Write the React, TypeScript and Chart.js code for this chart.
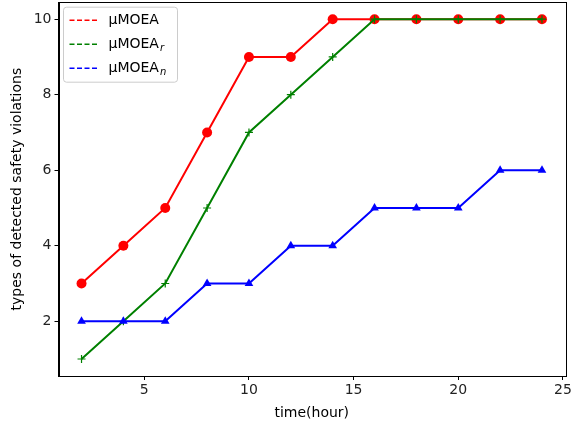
import React, { useEffect, useRef } from "react";
import { Chart, registerables } from "chart.js";

Chart.register(...registerables);

const hours = [2, 4, 6, 8, 10, 12, 14, 16, 18, 20, 22, 24];
const moea = [3, 4, 5, 7, 9, 9, 10, 10, 10, 10, 10, 10];
const moeaR = [1, 2, 3, 5, 7, 8, 9, 10, 10, 10, 10, 10];
const moeaN = [2, 2, 2, 3, 3, 4, 4, 5, 5, 5, 6, 6];
const xTicks = [5, 10, 15, 20, 25];
const yTicks = [2, 4, 6, 8, 10];
const legendItems = [
  { base: "μMOEA", sub: "", color: "#ff0000" },
  { base: "μMOEA", sub: "r", color: "#008000" },
  { base: "μMOEA", sub: "n", color: "#0000ff" },
];

const FONT = "DejaVu Sans";
const SHIFT = 3;

const frameAndLegend = {
  id: "frameAndLegend",
  afterDraw(chart: any) {
    const { ctx, chartArea } = chart;
    const { left, right, top, bottom } = chartArea;
    ctx.save();
    ctx.strokeStyle = "#000";
    ctx.lineWidth = 1;
    ctx.strokeRect(Math.round(left) + 0.5, Math.round(top) + 0.5, Math.round(right - left), Math.round(bottom - top));

    // legend
    const bx = left + 5, by = top + 5, bw = 114, bh = 75;
    const r = 3;
    ctx.beginPath();
    ctx.moveTo(bx + r, by);
    ctx.lineTo(bx + bw - r, by);
    ctx.quadraticCurveTo(bx + bw, by, bx + bw, by + r);
    ctx.lineTo(bx + bw, by + bh - r);
    ctx.quadraticCurveTo(bx + bw, by + bh, bx + bw - r, by + bh);
    ctx.lineTo(bx + r, by + bh);
    ctx.quadraticCurveTo(bx, by + bh, bx, by + bh - r);
    ctx.lineTo(bx, by + r);
    ctx.quadraticCurveTo(bx, by, bx + r, by);
    ctx.closePath();
    ctx.fillStyle = "rgba(255,255,255,0.8)";
    ctx.fill();
    ctx.strokeStyle = "#cccccc";
    ctx.stroke();

    legendItems.forEach((it, i) => {
      const y = by + 13 + i * 24;
      ctx.strokeStyle = it.color;
      ctx.lineWidth = 1.5;
      ctx.setLineDash([5, 2.5]);
      ctx.beginPath();
      ctx.moveTo(bx + 6, y);
      ctx.lineTo(bx + 34, y);
      ctx.stroke();
      ctx.setLineDash([]);
      ctx.fillStyle = "#000";
      ctx.textBaseline = "middle";
      ctx.font = `14px ${FONT}`;
      ctx.fillText(it.base, bx + 45, y);
      if (it.sub) {
        const w = ctx.measureText(it.base).width;
        ctx.font = `italic 10px ${FONT}`;
        ctx.fillText(it.sub, bx + 45 + w + 1, y + 4);
      }
    });
    ctx.restore();
  },
};

export default function App() {
  const ref = useRef<HTMLCanvasElement>(null);
  useEffect(() => {
    const mk = (data: number[]) => hours.map((x, i) => ({ x, y: data[i] }));
    const chart = new Chart(ref.current!, {
      type: "line",
      data: {
        datasets: [
          {
            label: "μMOEA",
            data: mk(moea),
            borderColor: "#ff0000",
            backgroundColor: "#ff0000",
            borderWidth: 2,
            pointStyle: "circle",
            pointRadius: 5,
            pointBorderWidth: 0,
            order: 3,
          },
          {
            label: "μMOEA_r",
            data: mk(moeaR),
            borderColor: "#008000",
            backgroundColor: "#008000",
            borderWidth: 2,
            pointStyle: "cross",
            pointRadius: 4,
            pointBorderWidth: 1.2,
            order: 2,
          },
          {
            label: "μMOEA_n",
            data: mk(moeaN),
            borderColor: "#0000ff",
            backgroundColor: "#0000ff",
            borderWidth: 2,
            pointStyle: "triangle",
            pointRadius: 5,
            pointBorderWidth: 0,
            order: 1,
          },
        ],
      },
      options: {
        animation: false,
        responsive: false,
        maintainAspectRatio: false,
        layout: { padding: { top: 0, right: 8, left: 9, bottom: 6 } },
        plugins: { legend: { display: false }, tooltip: { enabled: false } },
        scales: {
          x: {
            type: "linear",
            min: 0.9,
            max: 25.1,
            afterBuildTicks: (s: any) => {
              s.ticks = xTicks.map((v) => ({ value: v }));
            },
            afterFit: (s: any) => {
              s.height = 46;
              s.paddingLeft = 0;
              s.paddingRight = 0;
            },
            grid: { drawOnChartArea: false, drawTicks: true, tickLength: 4, color: "#000" },
            border: { display: true, color: "#000" },
            ticks: { color: "#222", font: { family: FONT, size: 14 }, padding: 2, maxRotation: 0 },
            title: {
              display: true,
              text: "time(hour)",
              color: "#000",
              font: { family: FONT, size: 14 },
              padding: { top: 0, bottom: 0 },
            },
          },
          y: {
            type: "linear",
            min: 0.55,
            max: 10.45,
            afterBuildTicks: (s: any) => {
              s.ticks = yTicks.map((v) => ({ value: v }));
            },
            afterFit: (s: any) => {
              s.width = 49.5;
              s.paddingTop = 0;
              s.paddingBottom = 0;
            },
            grid: { drawOnChartArea: false, drawTicks: true, tickLength: 4, color: "#000" },
            border: { display: true, color: "#000" },
            ticks: { color: "#222", font: { family: FONT, size: 14 }, padding: 3 },
            title: {
              display: true,
              text: "types of detected safety violations",
              color: "#000",
              font: { family: FONT, size: 14 },
              padding: { top: 0, bottom: 0 },
            },
          },
        },
      },
      plugins: [frameAndLegend],
    } as any);
    return () => chart.destroy();
  }, []);
  return (
    <div style={{ position: "fixed", left: 0, top: 0, width: 573, height: 428, background: "#fff", overflow: "hidden" }}>
      <canvas
        ref={ref}
        width={573}
        height={428 + SHIFT}
        style={{ position: "absolute", left: 0, top: -SHIFT, width: 573, height: 428 + SHIFT }}
      />
    </div>
  );
}
